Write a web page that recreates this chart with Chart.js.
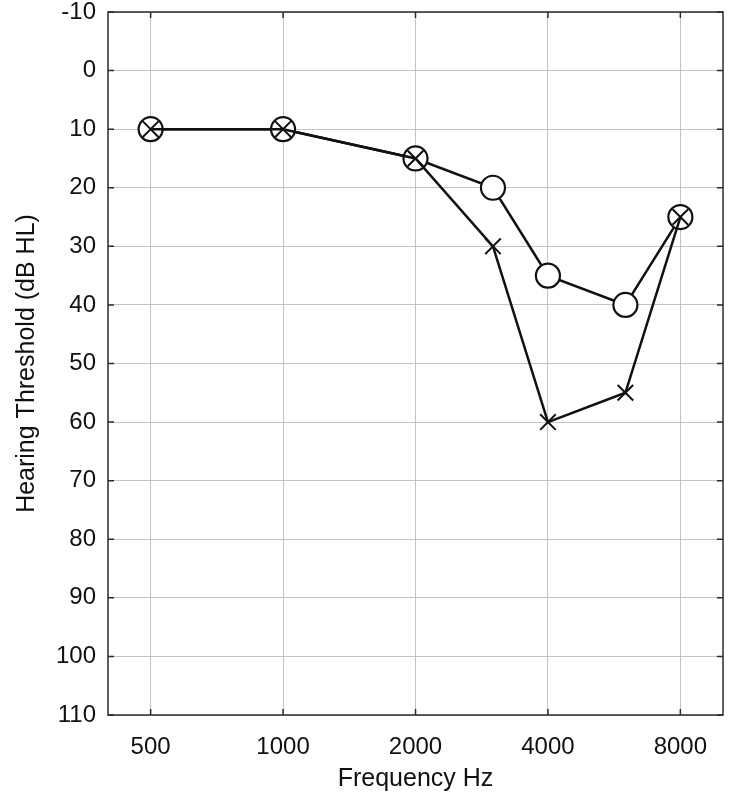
<!DOCTYPE html>
<html lang="en">
<head>
    <meta charset="UTF-8">
    <title>Audiogram</title>
    <script src="https://cdn.jsdelivr.net/npm/chart.js@4.4.0/dist/chart.umd.min.js"></script>
    <style>
        body { margin: 0; background: #fff; }
        #wrap { width: 731px; height: 800px; }
    </style>
</head>
<body>
    <div id="wrap"><canvas id="audiogram" width="731" height="800"></canvas></div>
    <script>
        // values
        const frequencies = [500, 1000, 2000, 3000, 4000, 6000, 8000];
        const circleThresholds = [10, 10, 15, 20, 35, 40, 25];
        const crossThresholds = [10, 10, 15, 30, 60, 55, 25];
        const freqTicks = [500, 1000, 2000, 4000, 8000];

        const FONT = '"Liberation Sans", Arial, sans-serif';

        function toPoints(values) {
            return frequencies.map((f, i) => ({ x: f, y: values[i] }));
        }

        // frame around the plot area with small inward ticks
        const framePlugin = {
            id: 'frame',
            afterDraw(chart) {
                const { ctx, chartArea: a, scales } = chart;
                ctx.save();
                ctx.strokeStyle = '#2b2b2b';
                ctx.lineWidth = 1.5;
                ctx.strokeRect(a.left, a.top, a.right - a.left, a.bottom - a.top);
                ctx.beginPath();
                scales.y.ticks.forEach(t => {
                    const py = scales.y.getPixelForValue(t.value);
                    ctx.moveTo(a.right, py);
                    ctx.lineTo(a.right - 6, py);
                    ctx.moveTo(a.left, py);
                    ctx.lineTo(a.left + 6, py);
                });
                scales.x.ticks.forEach(t => {
                    const px = scales.x.getPixelForValue(t.value);
                    ctx.moveTo(px, a.bottom);
                    ctx.lineTo(px, a.bottom - 6);
                    ctx.moveTo(px, a.top);
                    ctx.lineTo(px, a.top + 6);
                });
                ctx.stroke();
                ctx.restore();
            }
        };

        new Chart(document.getElementById('audiogram'), {
            type: 'scatter',
            data: {
                datasets: [
                    {
                        label: 'X',
                        data: toPoints(crossThresholds),
                        showLine: true,
                        borderColor: '#111',
                        borderWidth: 2.5,
                        pointStyle: 'crossRot',
                        pointRadius: 11,
                        pointBorderWidth: 2,
                        pointBorderColor: '#111',
                        pointBackgroundColor: '#111'
                    },
                    {
                        label: 'O',
                        data: toPoints(circleThresholds),
                        showLine: true,
                        borderColor: '#111',
                        borderWidth: 2.5,
                        pointStyle: 'circle',
                        pointRadius: 12,
                        pointBorderWidth: 2.2,
                        pointBorderColor: '#111',
                        pointBackgroundColor: '#fff'
                    }
                ]
            },
            options: {
                responsive: false,
                animation: false,
                layout: { autoPadding: false, padding: { top: 12, right: 8, left: 12, bottom: 6 } },
                plugins: {
                    legend: { display: false },
                    tooltip: { enabled: false }
                },
                scales: {
                    x: {
                        type: 'logarithmic',
                        min: 400,
                        max: 10000,
                        afterBuildTicks(scale) {
                            scale.ticks = freqTicks.map(v => ({ value: v }));
                        },
                        afterFit(scale) {
                            scale.height = 79;
                            scale.paddingLeft = 0;
                            scale.paddingRight = 0;
                        },
                        grid: { color: '#c4c4c4', lineWidth: 1, drawTicks: false },
                        border: { display: false },
                        ticks: {
                            autoSkip: false,
                            maxRotation: 0,
                            padding: 18,
                            color: '#111',
                            font: { family: FONT, size: 24 },
                            callback: v => String(v)
                        },
                        title: {
                            display: true,
                            text: 'Frequency Hz',
                            color: '#111',
                            font: { family: FONT, size: 25 },
                            padding: { top: 0, bottom: 0 }
                        }
                    },
                    y: {
                        reverse: true,
                        min: -10,
                        max: 110,
                        afterFit(scale) {
                            scale.width = 96;
                            scale.paddingTop = 0;
                            scale.paddingBottom = 0;
                        },
                        grid: { color: '#c4c4c4', lineWidth: 1, drawTicks: false },
                        border: { display: false },
                        ticks: {
                            stepSize: 10,
                            padding: 12,
                            color: '#111',
                            font: { family: FONT, size: 24 }
                        },
                        title: {
                            display: true,
                            text: 'Hearing Threshold (dB HL)',
                            color: '#111',
                            font: { family: FONT, size: 25 },
                            padding: { top: 0, bottom: 4 }
                        }
                    }
                }
            },
            plugins: [framePlugin]
        });
    </script>
</body>
</html>
